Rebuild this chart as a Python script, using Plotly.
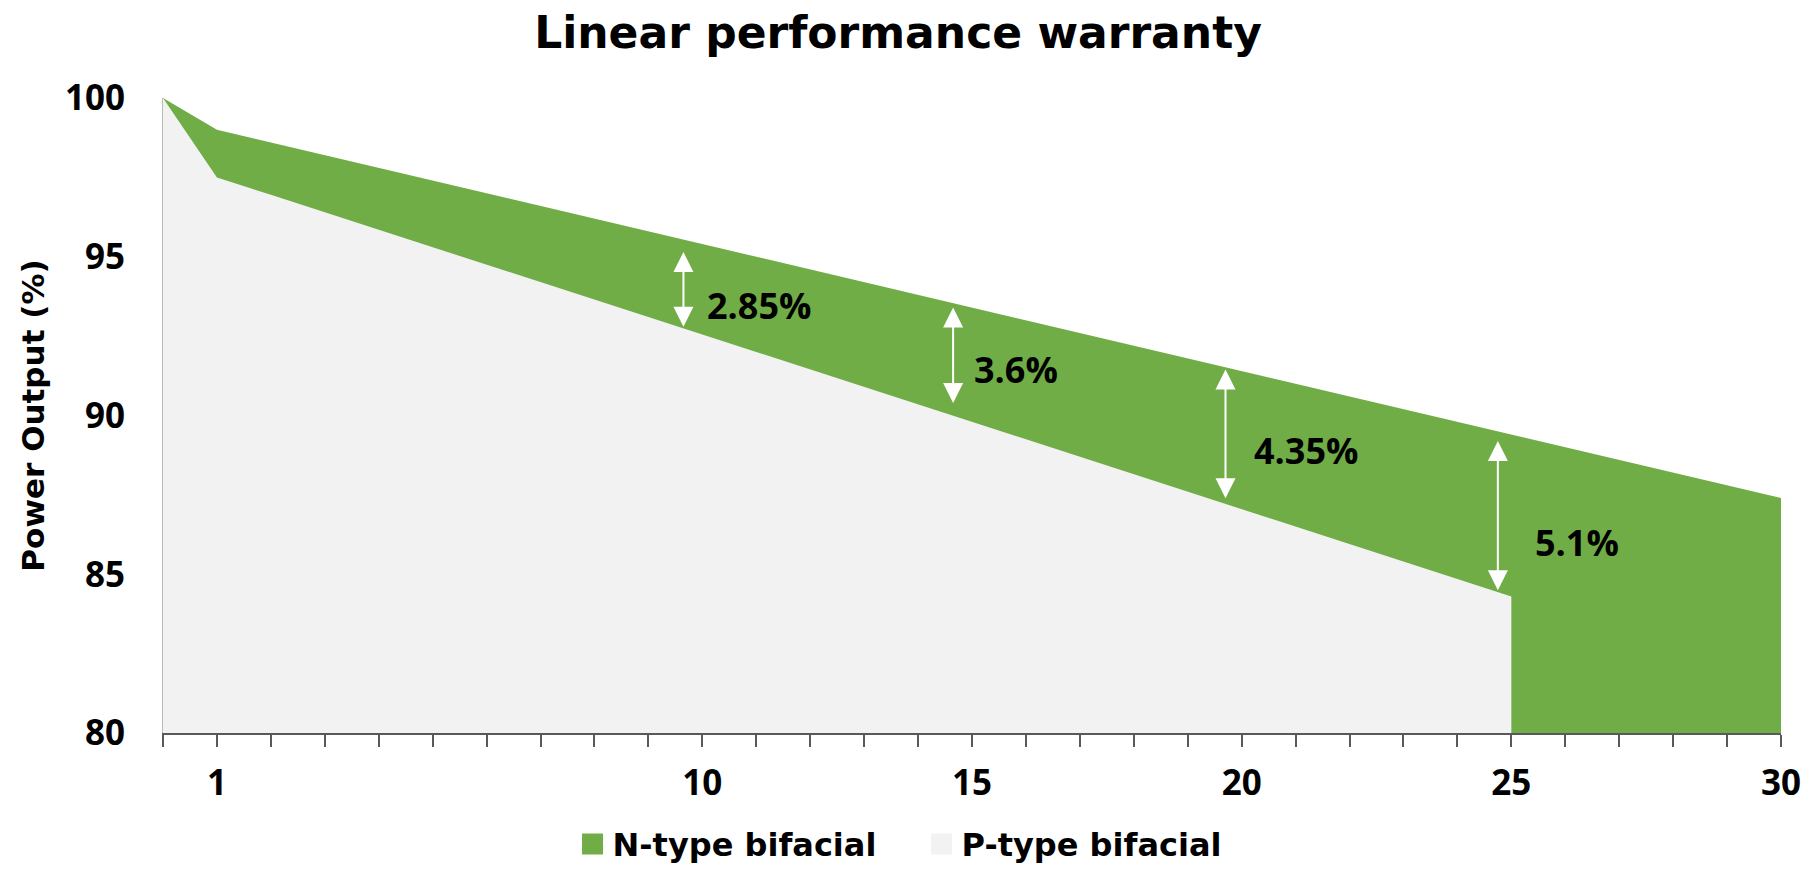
import plotly.graph_objects as go

# DATA
years_n = list(range(0, 31))
n_type = [100, 99.0, 98.6, 98.2, 97.8, 97.4, 97.0, 96.6, 96.2, 95.8, 95.4,
          95.0, 94.6, 94.2, 93.8, 93.4, 93.0, 92.6, 92.2, 91.8, 91.4,
          91.0, 90.6, 90.2, 89.8, 89.4, 89.0, 88.6, 88.2, 87.8, 87.4]
years_p = list(range(0, 26))
p_type = [100, 97.5, 96.95, 96.4, 95.85, 95.3, 94.75, 94.2, 93.65, 93.1, 92.55,
          92.0, 91.45, 90.9, 90.35, 89.8, 89.25, 88.7, 88.15, 87.6, 87.05,
          86.5, 85.95, 85.4, 84.85, 84.3]

x_tickvals = [1, 10, 15, 20, 25, 30]
y_tickvals = [80, 85, 90, 95, 100]

# gap markers: x, top, bottom, label
gap_x = [9.65, 14.65, 19.7, 24.75]
gap_top = [95.15, 93.4, 91.45, 89.2]
gap_bottom = [92.75, 90.35, 87.35, 84.45]
gap_labels = ["2.85%", "3.6%", "4.35%", "5.1%"]
label_x = [10.05, 15.0, 20.2, 25.4]
label_y = [93.45, 91.45, 88.9, 86.0]

GREEN = "#70AD47"
GREY = "#F2F2F2"
AXIS = "#595959"

fig = go.Figure()

fig.add_trace(go.Scatter(x=years_n, y=n_type, fill="tozeroy", mode="lines",
                         line=dict(width=0, color=GREEN), fillcolor=GREEN,
                         showlegend=False, hoverinfo="skip"))
fig.add_trace(go.Scatter(x=years_p, y=p_type, fill="tozeroy", mode="lines",
                         line=dict(width=0, color=GREY), fillcolor=GREY,
                         showlegend=False, hoverinfo="skip"))

# legend entries
fig.add_trace(go.Scatter(x=[None], y=[None], mode="markers", name="N-type bifacial",
                         marker=dict(symbol="square", size=16, color=GREEN,
                                     line=dict(width=5, color=GREEN))))
fig.add_trace(go.Scatter(x=[None], y=[None], mode="markers", name="P-type bifacial",
                         marker=dict(symbol="square", size=16, color=GREY,
                                     line=dict(width=5, color=GREY))))

for x, top, bot in zip(gap_x, gap_top, gap_bottom):
    fig.add_annotation(x=x, y=top, ax=x, ay=bot, axref="x", ayref="y",
                       text="", showarrow=True, arrowside="end+start",
                       arrowhead=2, startarrowhead=2, arrowsize=2, startarrowsize=2,
                       arrowwidth=2, arrowcolor="white")

for x, y, t in zip(label_x, label_y, gap_labels):
    fig.add_annotation(x=x, y=y, text="<b>%s</b>" % t, showarrow=False,
                       xanchor="left", yanchor="middle",
                       font=dict(family="Open Sans", size=36, color="black"))

# page body adds an 8px margin, so the figure is offset by that
fig.update_layout(
    width=1809, height=871,
    margin=dict(l=155, r=36, t=90, b=146),
    plot_bgcolor="white", paper_bgcolor="white",
    title=dict(text="<b>Linear performance warranty</b>", x=0.492, xanchor="center",
               yref="container", y=0.972, yanchor="middle",
               font=dict(family="DejaVu Sans", size=44, color="black")),
    legend=dict(orientation="h", xref="container", x=0.505, xanchor="center",
                yref="container", y=0.04, yanchor="middle",
                font=dict(family="DejaVu Sans", size=32, color="black", weight="bold"),
                entrywidth=304, itemclick=False),
)

fig.update_xaxes(range=[0, 30], tickvals=x_tickvals, ticktext=[str(v) for v in x_tickvals],
                 showgrid=False, zeroline=False, showline=True, linecolor=AXIS, linewidth=2,
                 ticks="outside", ticklen=12, tickwidth=2, tickcolor=AXIS,
                 ticklabelstandoff=6,
                 minor=dict(tick0=0, dtick=1, ticks="outside", ticklen=12, tickwidth=2,
                            tickcolor=AXIS, showgrid=False),
                 tickfont=dict(family="Open Sans", size=35, color="black", weight="bold"))

fig.update_yaxes(range=[80, 100], tickvals=y_tickvals, showgrid=False, zeroline=False,
                 showline=True, linecolor="#B8BFB0", linewidth=1, ticks="",
                 ticklabelstandoff=30,
                 tickfont=dict(family="Open Sans", size=35, color="black", weight="bold"),
                 title=dict(text="<b>Power Output (%)</b>", standoff=11,
                            font=dict(family="DejaVu Sans", size=31, color="black")))

fig.write_html("out.html")
